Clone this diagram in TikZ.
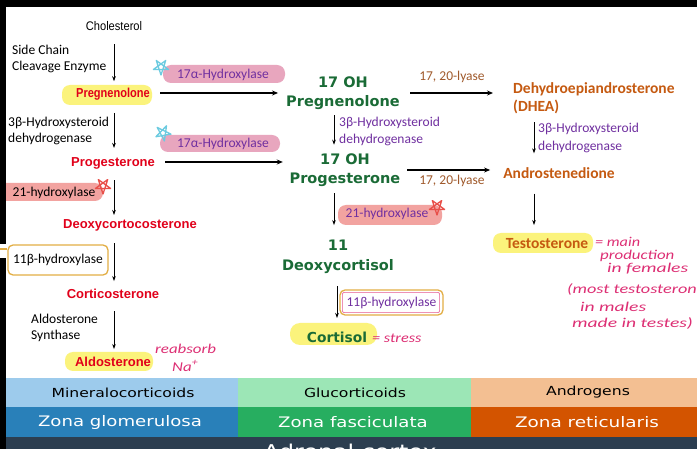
\documentclass[tikz,border=0pt]{standalone}
\usepackage{fontspec}
\usepackage{graphicx}
\setmainfont{Carlito}
\newfontfamily\arialf{Liberation Sans}
\newfontfamily\dejaf{DejaVu Sans}
\usetikzlibrary{arrows.meta}

\definecolor{redtxt}{HTML}{E1001A}
\definecolor{greentxt}{HTML}{1A6B36}
\definecolor{orangetxt}{HTML}{C55A11}
\definecolor{purpletxt}{HTML}{7030A0}
\definecolor{browntxt}{HTML}{A05A2C}
\definecolor{hlyellow}{HTML}{FBF37C}
\definecolor{hlpink}{HTML}{E8A6BE}
\definecolor{hlsalmon}{HTML}{F2A3A0}
\definecolor{boxgold}{HTML}{E2AE45}
\definecolor{handpink}{HTML}{DD2F74}
\definecolor{starcyan}{HTML}{6CCBE0}
\definecolor{starred}{HTML}{E8504A}
\definecolor{mineralbg}{HTML}{9DCBEC}
\definecolor{glucobg}{HTML}{9CE6B6}
\definecolor{androbg}{HTML}{F3BF92}
\definecolor{glomblue}{HTML}{2980B9}
\definecolor{fascgreen}{HTML}{27AE60}
\definecolor{reticorange}{HTML}{D35400}
\definecolor{cortexdark}{HTML}{2C3E50}

\newcommand\pxsize[2]{\fontsize{#1}{#2}\selectfont}
% widened italic for the pen notes
\newcommand\penwide[2]{\scalebox{#1}[1]{#2}}

\begin{document}
\begin{tikzpicture}[x=1pt,y=-1pt,
  redlbl/.style={font=\arialf\bfseries\pxsize{13}{15}, text=redtxt, inner sep=0pt},
  grnlbl/.style={font=\dejaf\bfseries\pxsize{14.5}{19.5}, text=greentxt, inner sep=0pt, align=center},
  ornlbl/.style={font=\bfseries\pxsize{15.5}{18}, text=orangetxt, inner sep=0pt},
  enzk/.style={font=\pxsize{13.5}{16}, align=left, inner sep=0pt, anchor=west},
  enzp/.style={enzk, text=purpletxt, font=\pxsize{13.5}{17.5}},
  lyase/.style={font=\pxsize{13.5}{16}, text=browntxt, inner sep=0pt},
  hand/.style={font=\itshape\pxsize{13.5}{13.5}, text=handpink, inner sep=0pt, anchor=west},
  hl/.style={inner sep=0pt, rounded corners=8pt},
  hlyel/.style={hl, fill=hlyellow},
  hlpk/.style={hl, fill=hlpink},
  hlsl/.style={hl, fill=hlsalmon},
  varr/.style={draw, line width=0.7pt, -{Stealth[length=5pt,width=3.6pt]}},
  harr/.style={draw, line width=1.5pt, -{Stealth[length=6pt,width=5pt]}},
  handbox/.style={draw=boxgold, line width=1.3pt, rounded corners=5pt, inner sep=0pt},
  starline/.style={line width=1.3pt, line join=round},
  toprow/.style={font=\dejaf\pxsize{12.5}{14}, text=black, inner sep=0pt},
  zonerow/.style={font=\dejaf\pxsize{14.5}{16}, text=white, inner sep=0pt}
]
\useasboundingbox (0,0) rectangle (697,449);
\clip (0,0) rectangle (697,449);
\fill[white] (0,0) rectangle (697,449);

% ---- highlighter marks behind the names ----
\node[hlyel, minimum width=90pt, minimum height=20pt] (pregHL) at (107,95) {};
\node[hlyel, minimum width=88pt, minimum height=19pt] (aldoHL) at (109,361.5) {};
\node[hlyel, minimum width=87pt, minimum height=22pt, rounded corners=10pt] (cortisolHL) at (333.5,334) {};
\node[hlyel, minimum width=100pt, minimum height=20pt] (testoHL) at (543,243) {};
\node[hlpk, minimum width=122pt, minimum height=18pt] (hydA) at (224,74) {};
\node[hlpk, minimum width=120pt, minimum height=17pt] (hydB) at (220,143.5) {};
\node[hlsl, minimum width=104pt, minimum height=20pt] (hyd21M) at (390,215) {};
\node[hlsl, minimum width=113pt, minimum height=18pt] (hyd21L) at (46.5,192) {};

% ---- frame strips ----
\fill[black] (0,0) rectangle (697,7);
\fill[black] (0,0) rectangle (6,244);
\fill[black] (0,258) rectangle (6,449);

% ---- column axes and arrow rows ----
\coordinate (axL) at (114,0);
\coordinate (axM) at (334,0);
\coordinate (axMb) at (337,0);
\coordinate (axR) at (534,0);
\coordinate (rowA) at (0,93);
\coordinate (rowB) at (0,162);
\coordinate (rowC) at (0,170);

% ---- left column: mineralocorticoid path ----
\node[font=\arialf\pxsize{12.5}{15}, inner sep=0pt] (chol) at (114,26) {\scalebox{0.89}[1]{Cholesterol}};
\node[redlbl] (preg) at (113,94.5) {\scalebox{0.85}[1]{Pregnenolone}};
\node[redlbl] (prog) at (113,163) {Progesterone};
\node[redlbl] (doc) at (130,225) {Deoxycortocosterone};
\node[redlbl] (cortico) at (113,294) {Corticosterone};
\node[redlbl] (aldo) at (113,362) {Aldosterone};

\node[enzk] (scc) at (12,59) {Side Chain\\Cleavage Enzyme};
\node[enzk] (hsdL) at (8,130.5) {3β-Hydroxysteroid\\dehydrogenase};
\node[font=\pxsize{13.5}{16}, inner sep=0pt] at (54,192.5) {21-hydroxylase};
\node[handbox, minimum width=100pt, minimum height=30pt, font=\pxsize{13.5}{16}] (hyd11L) at (58,260) {11β-hydroxylase};
\node[enzk] (aldosyn) at (31,328) {Aldosterone\\Synthase};

\draw[varr, shorten <=13.5pt, shorten >=7pt] (axL |- chol.south) -- (axL |- preg.north);
\draw[varr, shorten <=12pt, shorten >=9pt] (axL |- preg.south) -- (axL |- prog.north);
\draw[varr, shorten <=11pt, shorten >=4pt] (axL |- prog.south) -- (axL |- doc.north);
\draw[varr, shorten <=12pt, shorten >=8pt] (axL |- doc.south) -- (axL |- cortico.north);
\draw[varr, shorten <=12.4pt, shorten >=8pt] (axL |- cortico.south) -- (axL |- aldo.north);

\coordinate (edgeL) at (0,249);
\draw[boxgold, line width=1.3pt] (edgeL) -- (edgeL -| hyd11L.west);

% ---- middle column: glucocorticoid path ----
\node[grnlbl] (ohpreg) at (343,93) {17 OH\\Pregnenolone};
\node[grnlbl] (ohprog) at (345,170) {17 OH\\Progesterone};
\node[grnlbl, font=\dejaf\bfseries\pxsize{14.5}{20}] (deoxy11) at (338,256.5) {11\\Deoxycortisol};
\node[grnlbl, font=\dejaf\bfseries\pxsize{13.8}{16}] (cortisol) at (337,337) {Cortisol};

\node[font=\pxsize{13.5}{16}, text=purpletxt, inner sep=0pt] at (223,75) {17α-Hydroxylase};
\node[font=\pxsize{13.5}{16}, text=purpletxt, inner sep=0pt] at (223,144) {17α-Hydroxylase};
\node[enzp] (hsdM) at (339,131.5) {3β-Hydroxysteroid\\dehydrogenase};
\node[font=\pxsize{13.5}{16}, text=purpletxt, inner sep=0pt] at (387,214) {21-hydroxylase};
\node[handbox, minimum width=103pt, minimum height=25pt, font=\pxsize{13.5}{16}, text=purpletxt] (hyd11M) at (391.5,302.5) {11β-hydroxylase};
\draw[handpink!80, line width=0.6pt, rounded corners=2pt] ([xshift=3pt,yshift=-3pt]hyd11M.north west) rectangle ([xshift=-4pt,yshift=3pt]hyd11M.south east);

\draw[harr, shorten <=10pt, shorten >=8pt] (preg.east |- rowA) -- (ohpreg.west |- rowA);
\draw[harr, shorten <=10pt, shorten >=6.7pt] (prog.east |- rowB) -- (ohprog.west |- rowB);
\draw[varr, shorten <=5.6pt, shorten >=8.4pt] (axM |- ohpreg.south) -- (axM |- ohprog.north);
\draw[varr, shorten <=6.6pt, shorten >=14.4pt] (axM |- ohprog.south) -- (axM |- deoxy11.north);
\draw[varr, shorten <=12.6pt, shorten >=13.5pt] (axMb |- deoxy11.south) -- (axMb |- cortisol.north);

% ---- right column: androgen path ----
\node[ornlbl, align=left, anchor=west] (dhea) at (513,98.5) {Dehydroepiandrosterone\\(DHEA)};
\node[ornlbl] (andro) at (559,173) {Androstenedione};
\node[ornlbl] (testo) at (547,244) {Testosterone};
\node[lyase] (lyaseA) at (452,77) {17, 20-lyase};
\node[lyase] (lyaseB) at (452,181) {17, 20-lyase};
\node[enzp] (hsdR) at (538,138) {3β-Hydroxysteroid\\dehydrogenase};

\draw[harr, shorten <=10.3pt, shorten >=20pt] (ohpreg.east |- rowA) -- (dhea.west |- rowA);
\draw[harr, shorten <=6.7pt, shorten >=13pt] (ohprog.east |- rowC) -- (andro.west |- rowC);
\draw[varr, shorten <=8pt, shorten >=14pt] (axR |- dhea.south) -- (axR |- andro.north);
\draw[varr, shorten <=15pt, shorten >=13.7pt] (axR |- andro.south) -- (axR |- testo.north);

% ---- hand-drawn stars ----
\draw[starcyan, starline, shift={(161,67)}] (90:8) -- (234:8) -- (18:8) -- (162:8) -- (306:8) -- cycle;
\draw[starcyan, starline, shift={(163,133)}] (80:8) -- (224:8) -- (8:8) -- (152:8) -- (296:8) -- cycle;
\draw[starred, starline, shift={(103,186)}] (90:8) -- (234:8) -- (18:8) -- (162:8) -- (306:8) -- cycle;
\draw[starred, starline, shift={(437,207)}] (90:8) -- (234:8) -- (18:8) -- (162:8) -- (306:8) -- cycle;

% ---- handwritten notes ----
\node[hand] (noteAldo) at (155,349) {\penwide{1.25}{reabsorb}};
\node[hand] (noteNa) at (172,366) {\penwide{1.25}{Na\textsuperscript{+}}};
\node[hand] (noteCort) at (372,338) {\penwide{1.2}{= stress}};
\node[hand] (noteT1) at (595,242) {\penwide{1.2}{= main}};
\node[hand] (noteT2) at (600,255.5) {\penwide{1.25}{production}};
\node[hand] (noteT3) at (607,269) {\penwide{1.45}{in females}};
\node[hand] (noteT4) at (567,290) {\penwide{1.35}{(most testosterone}};
\node[hand] (noteT5) at (580,306.5) {\penwide{1.45}{in males}};
\node[hand] (noteT6) at (572,323) {\penwide{1.45}{made in testes)}};

% ---- adrenal cortex zones ----
\fill[mineralbg] (6,378) rectangle (238,407);
\fill[glucobg] (238,378) rectangle (471,407);
\fill[androbg] (471,378) rectangle (697,407);
\fill[glomblue] (6,407) rectangle (238,437);
\fill[fascgreen] (238,407) rectangle (471,437);
\fill[reticorange] (471,407) rectangle (697,437);
\fill[cortexdark] (6,437) rectangle (697,449);

\node[toprow] (mineral) at (123,392.5) {\scalebox{1.25}[1]{Mineralocorticoids}};
\node[toprow] (gluco) at (355,392.5) {\scalebox{1.25}[1]{Glucorticoids}};
\node[toprow] (androg) at (588,392.5) {\scalebox{1.25}[1]{Androgens}};
\node[zonerow] (glom) at (120,422) {\scalebox{1.25}[1]{Zona glomerulosa}};
\node[zonerow] (fasc) at (353,422) {\scalebox{1.25}[1]{Zona fasciculata}};
\node[zonerow] (retic) at (587,422) {\scalebox{1.27}[1]{Zona reticularis}};
\node[font=\dejaf\pxsize{19}{22}, text=white, inner sep=0pt, anchor=base] (cortex) at (350,458) {\scalebox{1.25}[1]{Adrenal cortex}};
\end{tikzpicture}
\end{document}
